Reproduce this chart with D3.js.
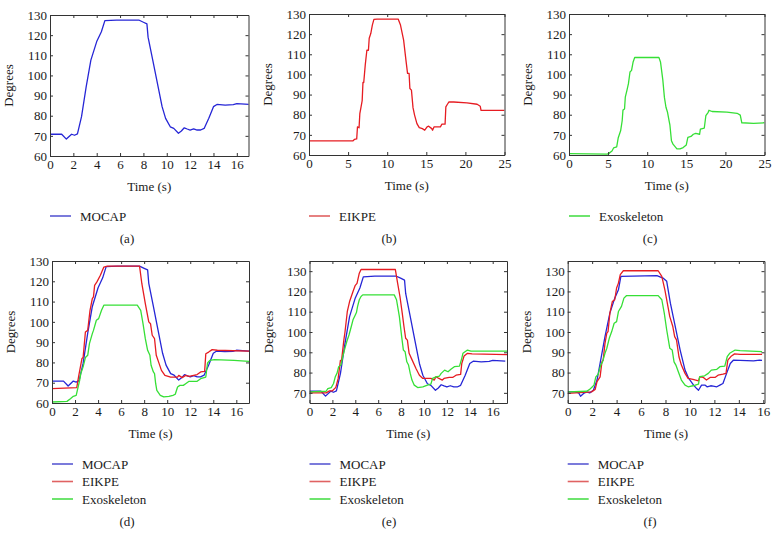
<!DOCTYPE html>
<html><head><meta charset="utf-8">
<script src="https://cdn.jsdelivr.net/npm/d3@7"></script>
<style>
body{margin:0;background:#fff;}
svg{display:block;}
</style></head>
<body><svg id="c" width="778" height="547"></svg>
<script>
// ---- data: [time (s), angle (degrees)] ----
const mocapA = [[0,70.8],[1.0,70.8],[1.4,68.4],[1.85,70.8],[2.1,70.3],[2.35,71],[2.7,79.5],[3.1,94.4],[3.5,107.6],[4.0,116.8],[4.4,121.7],[4.7,127.2],[5.7,127.5],[7.6,127.5],[8.0,126.4],[8.3,125.6],[8.4,119],[8.8,107.6],[9.2,96],[9.6,84.5],[9.9,78.7],[10.3,74.5],[10.6,73.7],[11.0,71.3],[11.25,72.4],[11.5,74],[11.75,73.4],[12.0,72.9],[12.3,73.5],[12.6,72.9],[12.9,72.9],[13.2,73.7],[13.6,78.7],[14.0,84.5],[14.3,85.6],[15.0,85.3],[15.7,85.5],[16.0,86],[17.1,85.6]];
const eikpeB = [[0,67],[5.6,67],[5.8,67.7],[6.1,68],[6.2,74],[6.4,73.5],[6.5,80.5],[6.6,82.6],[6.8,87],[6.9,96],[7.0,96],[7.2,105],[7.4,112],[7.6,112],[7.7,118],[7.9,120.3],[8.1,124.5],[8.3,127.3],[8.7,127.5],[11.4,127.5],[11.7,124.5],[12.1,117],[12.4,107],[12.6,100.5],[12.8,100.5],[12.9,93],[13.1,92.2],[13.3,83.5],[13.5,79.8],[13.8,75.6],[14.1,73.6],[14.5,73.1],[14.8,72.3],[15.1,74],[15.3,74.3],[15.7,73.1],[15.8,72.3],[16.0,74],[16.8,74],[17.0,75.3],[17.4,75.3],[17.5,83.9],[17.7,85.2],[17.9,86.4],[18.5,86.3],[20.2,85.9],[21.5,85.2],[21.9,84.2],[22.0,82.2],[25,82.2]];
const exoC = [[0,60.7],[4.9,60.4],[5.1,60.8],[5.5,62],[5.7,63.5],[6.1,64],[6.3,68.6],[6.6,72],[6.8,77],[6.9,82.3],[7.1,82.8],[7.2,88.7],[7.4,92],[7.6,95.4],[7.8,101.2],[8.0,102],[8.2,106.2],[8.4,108.4],[11.5,108.4],[11.7,106.2],[12.0,97.2],[12.2,88.6],[12.4,83.7],[12.6,81.2],[12.8,77],[12.9,75],[13.1,67.1],[13.3,65.4],[13.8,63],[14.2,63],[14.6,63.7],[15.0,65],[15.2,68.7],[15.6,69.2],[15.9,70.3],[16.2,70.7],[16.7,70.3],[16.8,72.8],[17.3,73.4],[17.5,79.5],[17.8,81.2],[17.9,82.2],[18.3,81.6],[20.2,81.3],[21.5,80.7],[21.9,79.8],[22.1,76],[23.6,75.7],[25,76]];
const eikpeD = [[0,67.1],[2.15,67.6],[2.3,72.8],[2.6,81.9],[2.7,82.4],[2.9,95],[3.1,95.8],[3.3,105.7],[3.5,111.5],[3.6,112.3],[3.7,118],[3.9,119.7],[4.2,123],[4.5,127],[4.8,127.5],[7.6,127.5],[7.8,118.8],[8.1,109],[8.4,100],[8.55,99.1],[8.7,93.4],[8.9,91.7],[9.05,83.5],[9.3,79.4],[9.5,76.1],[9.8,73.6],[10.3,72.8],[10.9,72.8],[11.0,73.6],[11.3,72.5],[11.6,73.6],[11.9,73.1],[12.3,73.6],[12.6,74],[12.9,75.3],[13.25,75.6],[13.35,84.3],[13.6,85.1],[13.9,86.3],[14.35,86],[17.1,85.6]];
const exoD = [[0,60.5],[1.3,60.8],[1.6,62.1],[1.85,63.3],[2.1,63.8],[2.2,66.2],[2.4,71.2],[2.5,74.5],[2.7,77.8],[2.9,82.4],[3.1,83.5],[3.25,89.3],[3.5,94.2],[3.6,95.8],[3.85,100.8],[4.05,101.6],[4.3,105.7],[4.5,108.2],[7.4,108.2],[7.7,105.7],[7.9,99.1],[8.1,91.7],[8.3,86],[8.5,83.5],[8.6,78.6],[8.8,75.3],[8.9,74.5],[9.0,69.5],[9.1,66.2],[9.4,63.8],[9.7,63],[10.15,63.3],[10.5,63.8],[10.7,64.3],[10.9,67.9],[11.1,68.7],[11.4,68.7],[11.6,69.5],[11.9,70.7],[12.6,70.7],[12.9,72],[13.35,72.8],[13.5,79.7],[13.7,81],[14.1,81.4],[15.8,81],[17.1,80.5]];
const eikpeE = [[0,70],[1.45,70],[1.75,71],[2.0,71],[2.3,72.7],[2.5,77],[2.7,86],[2.8,86],[3.0,96],[3.1,100],[3.3,110],[3.5,115],[3.8,120],[4.0,123],[4.15,124],[4.35,129],[4.5,130.8],[7.5,130.8],[7.7,124],[7.9,117.5],[8.1,109.3],[8.25,102.7],[8.4,96.9],[8.55,96],[8.7,89.5],[8.9,87],[9.3,82],[9.6,78.7],[9.9,77.1],[10.6,77.1],[10.9,76.3],[11.05,78],[11.3,77.1],[11.6,76.3],[11.75,77.1],[12.2,77.6],[12.5,77.6],[12.8,78.7],[13.2,79.1],[13.3,84.5],[13.5,88.2],[13.8,89.5],[14.2,89.2],[17.3,88.8]];
const exoE = [[0,70.5],[1.45,70.8],[1.6,72.1],[1.9,72.6],[2.1,74.6],[2.25,77.9],[2.4,79.6],[2.55,82.9],[2.75,83.7],[2.9,87.8],[3.05,91.1],[3.25,95.2],[3.45,98.5],[3.65,102.7],[3.8,106],[4.0,108.4],[4.1,109.6],[4.2,112.6],[4.35,115.9],[4.5,117.5],[4.65,118.3],[7.4,118.3],[7.6,115.9],[7.85,107.6],[8.05,97.7],[8.2,91.1],[8.35,90.3],[8.5,85.3],[8.65,83.7],[8.8,79.6],[8.95,76.3],[9.15,73.8],[9.45,72.6],[9.9,72.9],[10.3,73.8],[10.6,74.3],[10.75,77.1],[11.05,77.9],[11.35,78.3],[11.5,79.6],[11.8,81.2],[12.1,80.4],[12.35,81.6],[12.65,82.9],[13.1,83.2],[13.3,87],[13.4,89.5],[13.8,91.1],[14.1,90.6],[17.3,90.6]];
const mocapF = [[0,70.5],[0.6,70.5],[0.9,70],[1.05,68.3],[1.3,69.7],[1.55,70.5],[1.8,70],[2.1,71.3],[2.4,76.3],[2.65,84.5],[3.05,97.7],[3.45,109.3],[3.85,116.7],[4.15,120.8],[4.35,127.4],[7.3,127.8],[7.8,126.6],[8.1,125],[8.4,114.2],[8.8,102.7],[9.2,91.1],[9.6,81.2],[9.9,77.1],[10.3,73.8],[10.55,72.1],[10.7,71.3],[10.95,73.8],[11.25,73.8],[11.4,73],[11.7,73.5],[11.9,73.3],[12.2,73],[12.45,73.8],[12.7,74.6],[13.0,79.6],[13.3,84.5],[13.55,86.1],[15.2,85.8],[15.7,86.1],[15.9,86]];
const eikpeF = [[0,69.7],[1.95,70.5],[2.25,71.7],[2.4,75.5],[2.65,77.9],[2.8,85.3],[2.9,86.1],[3.05,94.4],[3.2,99.4],[3.3,100.2],[3.45,109.3],[3.65,115],[3.85,115.9],[4.0,121.7],[4.15,124.1],[4.3,128.3],[4.55,130.2],[7.4,130.2],[7.7,127.4],[7.95,120.8],[8.15,114.2],[8.35,107.6],[8.6,102.7],[8.75,97.7],[8.9,96.1],[9.1,87.8],[9.3,83.7],[9.6,79.6],[9.85,77.1],[10.25,76.6],[10.7,75.9],[10.8,77.9],[11.1,77.6],[11.35,76.3],[11.65,77.6],[12.05,77.6],[12.3,78.7],[12.7,79.2],[12.95,79.6],[13.1,86.1],[13.4,88.2],[13.65,89.2],[14.1,89],[15.9,89]];
const exoF = [[0,70.5],[1.55,70.8],[1.8,71.7],[2.0,72.9],[2.15,73.8],[2.3,77.9],[2.5,79.2],[2.7,83.7],[2.85,85.3],[3.05,89.5],[3.2,92],[3.4,96.9],[3.6,100.2],[3.8,104.3],[4.0,105.1],[4.15,110.1],[4.4,112.6],[4.6,116.7],[4.8,117.9],[7.4,117.9],[7.7,115.9],[7.9,109.3],[8.1,101],[8.35,92],[8.55,91.1],[8.7,85.3],[8.85,83.7],[9.05,80.4],[9.3,76.3],[9.6,73.8],[9.85,73],[10.25,73.5],[10.7,74.3],[10.8,78],[11.2,78.4],[11.5,79.6],[11.75,81.2],[12.2,81.6],[12.45,82.9],[12.85,83.2],[13.05,87.8],[13.25,89.5],[13.7,91.1],[14.1,90.8],[15.9,90.3]];

const seriesNames = ["MOCAP","EIKPE","Exoskeleton"];
const panelLabels = ["(a)","(b)","(c)","(d)","(e)","(f)"];
const ticksX17 = [0,2,4,6,8,10,12,14,16];
const ticksX25 = [0,5,10,15,20,25];
const ticksY60 = [60,70,80,90,100,110,120,130];
const ticksY70 = [70,80,90,100,110,120,130];
const xLabel = "Time (s)";
const yLabel = "Degrees";

// ---- styling / layout ----
const FONT = "'Liberation Serif', 'Times New Roman', serif";
const lineColor = {MOCAP:"#2626d6", EIKPE:"#e61c22", Exoskeleton:"#36df36"};
const legendColor = {MOCAP:"#5a5ad2", EIKPE:"#e06262", Exoskeleton:"#4ade4a"};

const panels = [
 {l:50, r:248.5, t:15, b:156, xd:[0,17], yd:[60,130], xt:ticksX17, yt:ticksY60, series:[["MOCAP",mocapA]], lab:127, legY:216, labY:238},
 {l:309, r:504.5, t:14, b:155, xd:[0,25], yd:[60,130], xt:ticksX25, yt:ticksY60, series:[["EIKPE",eikpeB]], lab:389, legY:216, labY:238},
 {l:569, r:764.5, t:14, b:155, xd:[0,25], yd:[60,130], xt:ticksX25, yt:ticksY60, series:[["Exoskeleton",exoC]], lab:650, legY:216, labY:238},
 {l:52, r:249, t:261, b:403, xd:[0,17.1], yd:[60,130], xt:ticksX17, yt:ticksY60, series:[["MOCAP",mocapA],["EIKPE",eikpeD],["Exoskeleton",exoD]], lab:127, legY:464, labY:521},
 {l:309.5, r:507, t:261, b:403, xd:[0,17.25], yd:[65,135], xt:ticksX17, yt:ticksY70, series:[["MOCAP",mocapA],["EIKPE",eikpeE],["Exoskeleton",exoE]], lab:389, legY:464, labY:521},
 {l:567.7, r:764.5, t:261, b:403, xd:[0,16.1], yd:[65,135], xt:ticksX17, yt:ticksY70, series:[["MOCAP",mocapF],["EIKPE",eikpeF],["Exoskeleton",exoF]], lab:650, legY:464, labY:521}
];

const svg = d3.select("#c");
const defs = svg.append("defs");
const fs = 13;

panels.forEach((p,i)=>{
  const x = d3.scaleLinear().domain(p.xd).range([p.l,p.r]);
  const y = d3.scaleLinear().domain(p.yd).range([p.b,p.t]);
  const g = svg.append("g");
  defs.append("clipPath").attr("id","clip"+i).append("rect")
    .attr("x",p.l).attr("y",p.t).attr("width",p.r-p.l).attr("height",p.b-p.t);

  const line = d3.line().x(d=>x(d[0])).y(d=>y(d[1]));
  p.series.forEach(([name,data])=>{
    g.append("path").datum(data).attr("clip-path","url(#clip"+i+")")
      .attr("fill","none").attr("stroke",lineColor[name]).attr("stroke-width",1.3)
      .attr("stroke-linejoin","round").attr("d",line);
  });

  const styleAxis = sel=>{
    sel.attr("font-family",FONT);
    sel.select(".domain").attr("stroke","#333");
    sel.selectAll(".tick line").attr("stroke","#333");
    sel.selectAll("text").attr("fill","#1a1a1a").attr("font-size",fs);
  };
  g.append("g").attr("transform",`translate(0,${p.b})`)
    .call(d3.axisBottom(x).tickValues(p.xt).tickFormat(d3.format("d")).tickSizeInner(-3).tickSizeOuter(0).tickPadding(4)).call(styleAxis);
  g.append("g").attr("transform",`translate(0,${p.t})`)
    .call(d3.axisTop(x).tickValues(p.xt).tickFormat("").tickSizeInner(-3).tickSizeOuter(0)).call(styleAxis);
  g.append("g").attr("transform",`translate(${p.l},0)`)
    .call(d3.axisLeft(y).tickValues(p.yt).tickFormat(d3.format("d")).tickSizeInner(-3).tickSizeOuter(0).tickPadding(3)).call(styleAxis);
  g.append("g").attr("transform",`translate(${p.r},0)`)
    .call(d3.axisRight(y).tickValues(p.yt).tickFormat("").tickSizeInner(-3).tickSizeOuter(0)).call(styleAxis);

  g.append("text").attr("x",(p.l+p.r)/2).attr("y",p.b+35).attr("text-anchor","middle")
    .attr("font-size",fs).attr("fill","#1a1a1a").text(xLabel);
  g.append("text").attr("transform",`translate(${p.l-37},${(p.t+p.b)/2}) rotate(-90)`)
    .attr("text-anchor","middle").attr("font-size",fs).attr("fill","#1a1a1a").text(yLabel);

  p.series.forEach(([name],k)=>{
    const ly = p.legY + k*17.5;
    g.append("line").attr("x1",p.l).attr("x2",p.l+21).attr("y1",ly).attr("y2",ly)
      .attr("stroke",legendColor[name]).attr("stroke-width",1.6);
    g.append("text").attr("x",p.l+30).attr("y",ly).attr("dy","0.35em")
      .attr("font-size",fs).attr("fill","#1a1a1a").text(name);
  });
  g.append("text").attr("x",p.lab).attr("y",p.labY).attr("dy","0.35em").attr("text-anchor","middle")
    .attr("font-size",fs).attr("fill","#1a1a1a").text(panelLabels[i]);
});
svg.selectAll("text").attr("font-family",FONT);
</script></body></html>
